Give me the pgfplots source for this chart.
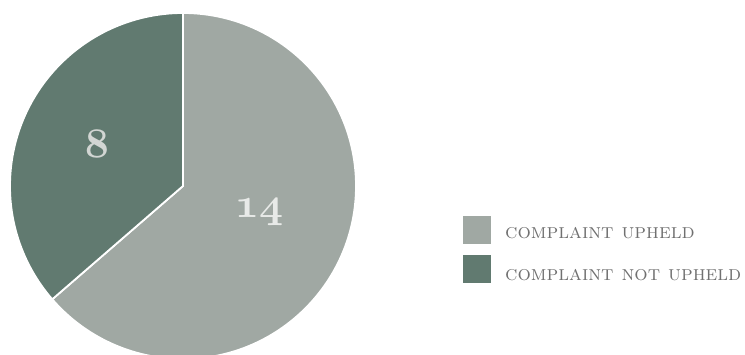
\documentclass[border=0pt]{standalone}
\usepackage{fix-cm}
\usepackage{pgfplots}
\usepackage{pgfplotstable}
\pgfplotsset{compat=1.18}
\definecolor{upheld}{RGB}{160,168,163}
\definecolor{notupheld}{RGB}{97,122,112}
\definecolor{legtext}{RGB}{112,112,112}
\newcommand{\osnum}[1]{{\fontsize{42}{46}\usefont{OML}{cmm}{b}{it}#1}}
\pgfplotstableread{
label value
upheld 14
notupheld 8
}\piedata
\begin{document}
\begin{tikzpicture}
\pgfplotstablegetelem{0}{value}\of\piedata \edef\vA{\pgfplotsretval}
\pgfplotstablegetelem{1}{value}\of\piedata \edef\vB{\pgfplotsretval}
\pgfmathsetmacro{\aA}{360*\vA/(\vA+\vB)}
\pgfmathsetmacro{\endA}{90-\aA}
\begin{axis}[
  scale only axis, width=745pt, height=354pt,
  xmin=0, xmax=745, ymin=0, ymax=354,
  hide axis, clip=true,
]
\path (axis cs:0,0) rectangle (axis cs:745,354);
\fill[upheld, draw=white, line width=1.8pt] (axis cs:183,168) -- ++(90:173pt) arc[start angle=90, end angle=\endA, radius=173pt] -- cycle;
\fill[notupheld, draw=white, line width=1.8pt] (axis cs:183,168) -- ++(\endA:173pt) arc[start angle=\endA, end angle=-270, radius=173pt] -- cycle;
\node[anchor=base, text={rgb,255:red,210;green,214;blue,211}] at (axis cs:97,196) {\osnum{\vB}};
\node[anchor=base, text={rgb,255:red,232;green,234;blue,232}] at (axis cs:259,136) {\osnum{\vA}};
% legend
\fill[upheld] (axis cs:463,110) rectangle (axis cs:491,138);
\fill[notupheld] (axis cs:463,71) rectangle (axis cs:491,99);
\node[anchor=base west, inner sep=0, text=legtext, font=\fontsize{21}{24}\selectfont] at (axis cs:505,116) {\textsc{complaint upheld}};
\node[anchor=base west, inner sep=0, text=legtext, font=\fontsize{21}{24}\selectfont] at (axis cs:505,74) {\textsc{complaint not upheld}};
\end{axis}
\end{tikzpicture}
\end{document}
